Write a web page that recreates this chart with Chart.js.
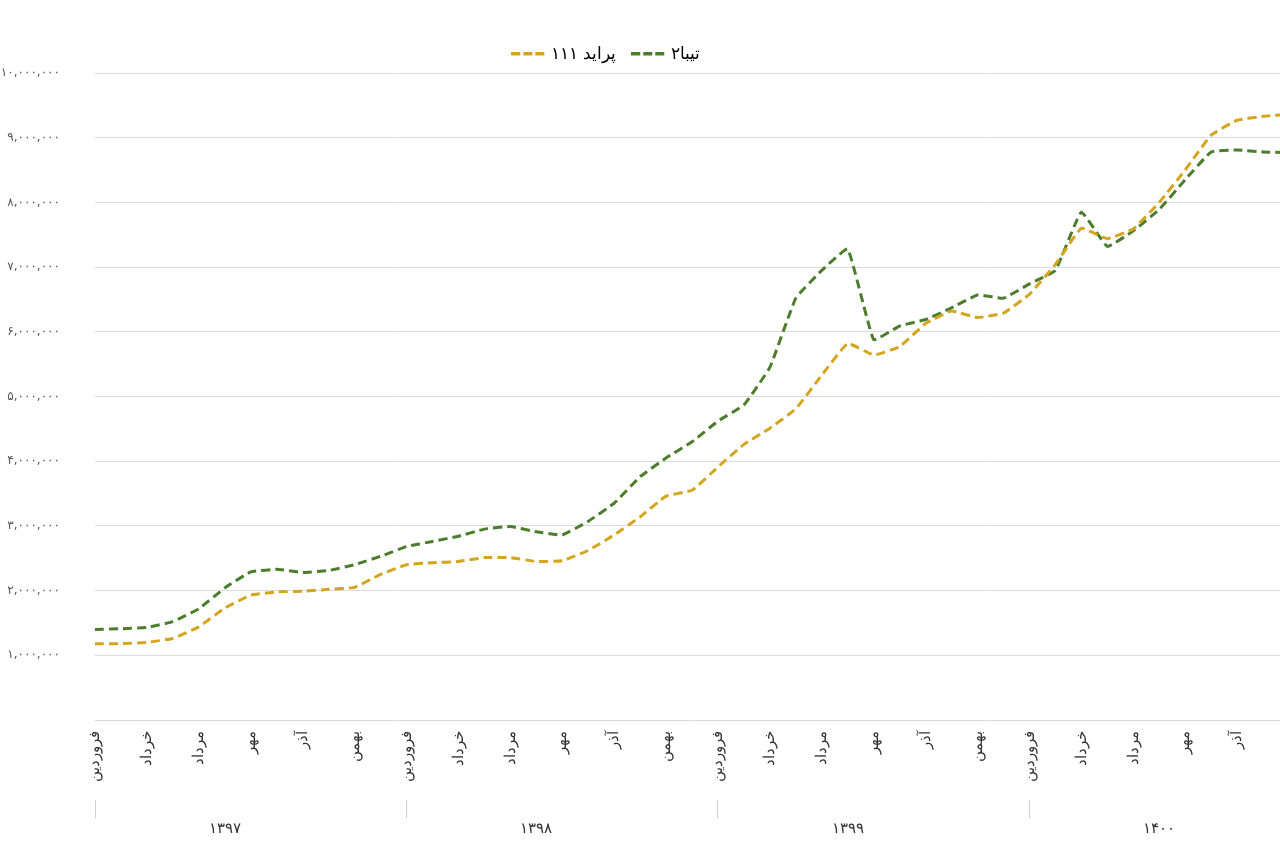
<!DOCTYPE html>
<html>
<head>
<meta charset="utf-8">
<script src="https://cdn.jsdelivr.net/npm/chart.js@4/dist/chart.umd.min.js"></script>
<style>
  body { margin: 0; background: #fff; overflow: hidden; }
  #wrap { position: absolute; left: -70px; top: 0; width: 1380px; height: 850px; }
</style>
</head>
<body>
<div id="wrap"><canvas id="c"></canvas></div>
<script>
const monthNames = ["فروردین", "", "خرداد", "", "مرداد", "", "مهر", "", "آذر", "", "بهمن", ""];
const years = ["۱۳۹۷", "۱۳۹۸", "۱۳۹۹", "۱۴۰۰"];

// monthly prices in millions of rials
const pride111 = [1.18, 1.18, 1.20, 1.26, 1.44, 1.73, 1.93, 1.98, 1.99, 2.02, 2.05, 2.25,
  2.40, 2.43, 2.45, 2.51, 2.51, 2.45, 2.46, 2.62, 2.86, 3.14, 3.46, 3.55,
  3.91, 4.26, 4.51, 4.81, 5.33, 5.82, 5.64, 5.77, 6.13, 6.32, 6.22, 6.29,
  6.58, 7.04, 7.60, 7.44, 7.59, 8.00, 8.50, 9.04, 9.27, 9.33, 9.36];
const tiba2 = [1.40, 1.41, 1.43, 1.52, 1.72, 2.04, 2.29, 2.33, 2.28, 2.31, 2.40, 2.53,
  2.68, 2.76, 2.84, 2.95, 2.99, 2.91, 2.86, 3.07, 3.35, 3.76, 4.05, 4.30,
  4.62, 4.87, 5.45, 6.52, 6.95, 7.28, 5.88, 6.09, 6.19, 6.37, 6.57, 6.52,
  6.74, 6.95, 7.85, 7.32, 7.56, 7.89, 8.35, 8.78, 8.81, 8.78, 8.77];

const labels = pride111.map((v, i) => i);
const fa = n => String(n).replace(/\d/g, d => "۰۱۲۳۴۵۶۷۸۹"[d]);

// dashed legend marker with a small gap before the text
function dashBox(color) {
  const c = document.createElement("canvas");
  c.width = 46; c.height = 6;
  const g = c.getContext("2d");
  g.fillStyle = color;
  [0, 12, 24].forEach(x => g.fillRect(x, 0, 9, 4));
  return c;
}

new Chart(document.getElementById("c"), {
  type: "line",
  data: {
    labels,
    datasets: [
      { label: "پراید ۱۱۱", data: pride111.map(v => v * 1e6), borderColor: "#d4a520", backgroundColor: "#d4a520",
        borderWidth: 3, borderDash: [9, 5], pointRadius: 0, tension: 0.1, fill: false },
      { label: "تیبا۲", data: tiba2.map(v => v * 1e6), borderColor: "#4b7d2c", backgroundColor: "#4b7d2c",
        borderWidth: 3, borderDash: [9, 5], pointRadius: 0, tension: 0.1, fill: false }
    ]
  },
  options: {
    responsive: true,
    maintainAspectRatio: false,
    animation: false,
    layout: { padding: { top: 16, right: 14 } },
    plugins: {
      tooltip: { enabled: false },
      legend: {
        labels: {
          font: { family: "Noto Sans", size: 17 }, color: "#444",
          usePointStyle: true, padding: 30,
          generateLabels: chart => chart.data.datasets.map((d, i) => ({
            text: d.label, pointStyle: dashBox(d.borderColor), fillStyle: d.borderColor,
            strokeStyle: d.borderColor, lineWidth: 0, datasetIndex: i
          }))
        }
      }
    },
    scales: {
      y: {
        min: 0, max: 10e6,
        afterFit: s => { s.width = 165; },
        ticks: { stepSize: 1e6, padding: 35, color: "#555", font: { family: "DejaVu Sans", size: 12 },
          callback: v => v === 0 ? "" : fa(v.toLocaleString("en-US")) },
        grid: { color: "#dcdcdc", drawTicks: false },
        border: { display: false }
      },
      x: {
        offset: false,
        afterFit: s => { s.height = 80; },
        ticks: { autoSkip: false, maxRotation: 90, minRotation: 90, color: "#333",
          font: { family: "Noto Sans", size: 15 },
          callback: (v, i) => monthNames[i % 12] },
        grid: { display: false },
        border: { color: "#d8d8d8" }
      },
      x2: {
        type: "category",
        position: "bottom",
        offset: false,
        labels,
        afterFit: s => { s.height = 50; },
        ticks: { autoSkip: false, maxRotation: 0, minRotation: 0, color: "#333", padding: 2,
          font: { family: "Noto Sans", size: 15 },
          callback: (v, i) => i % 12 === 5 ? years[Math.floor(i / 12)] : "" },
        grid: { drawOnChartArea: false, tickLength: 18, color: c => c.index % 12 === 0 ? "#cfcfcf" : "rgba(0,0,0,0)" },
        border: { display: false }
      }
    }
  }
});
</script>
</body>
</html>
